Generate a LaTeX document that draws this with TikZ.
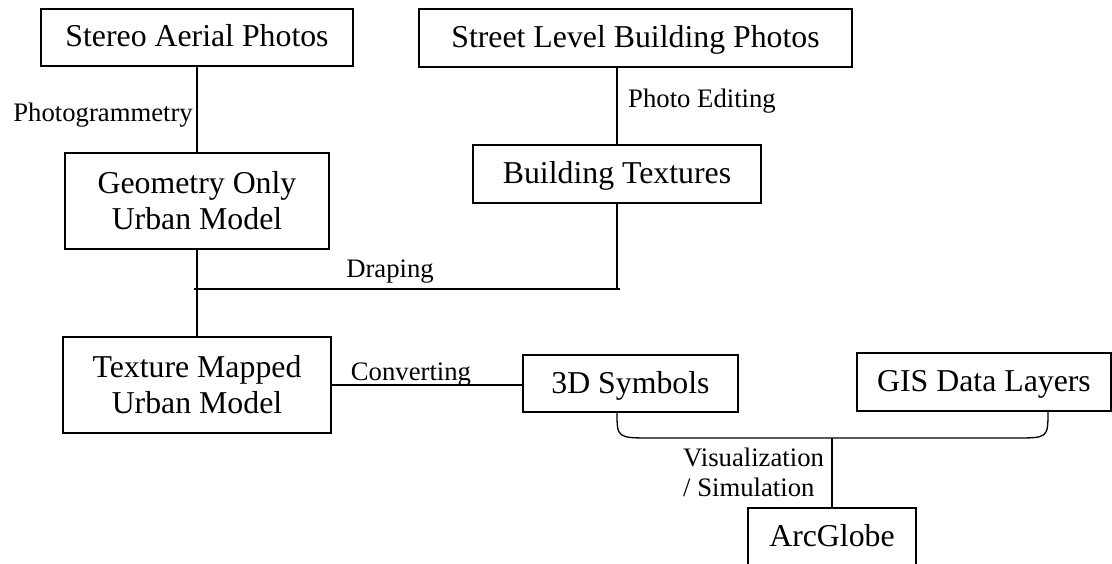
\documentclass[tikz,border=0pt]{standalone}
\usepackage{fontspec}
\setmainfont{Liberation Serif}
\begin{document}
\begin{tikzpicture}[x=1pt,y=-1pt,
  boxbase/.style={draw, line width=1.3pt, inner sep=0pt, font=\fontsize{31.8pt}{36pt}\selectfont},
  box/.style={boxbase, text height=24.5pt, text depth=5.5pt},
  box2/.style={boxbase, align=center},
  lbl/.style={inner sep=0pt, font=\fontsize{26.7pt}{30pt}\selectfont},
  lbl2/.style={lbl, align=left},
  conn/.style={line width=1.3pt}]
\useasboundingbox (0,0) rectangle (1112,564);
\clip (0,0) rectangle (1112,564);

% boxes
\node[box, minimum width=312pt, minimum height=57pt] (stereo) at (197,37.5) {Stereo Aerial Photos\hspace{7pt}};
\node[box, minimum width=433pt, minimum height=58pt] (street) at (635.5,38) {Street Level Building Photos};
\node[box2, minimum width=264pt, minimum height=96pt] (geom) at (197,201) {Geometry Only\\Urban Model};
\node[box, minimum width=288pt, minimum height=58pt] (textures) at (617,174) {Building Textures\hspace{15pt}};
\node[box2, minimum width=268pt, minimum height=96pt] (tmap) at (197,385) {Texture Mapped\\Urban Model};
\node[box, minimum width=215pt, minimum height=57pt] (sym) at (630.5,383.5) {3D Symbols\hspace{18pt}};
\node[box, minimum width=254pt, minimum height=58pt] (gis) at (984,382) {GIS Data Layers};
\node[box, minimum width=168pt, minimum height=57pt] (arc) at (832,536.5) {ArcGlobe};

% helper coordinates
\coordinate (drapeL) at (194,289);
\coordinate (drapeR) at (620,289);
\coordinate (braceL) at (617,412);
\coordinate (braceR) at (1048,411);
\coordinate (stem) at (832,438);

% connectors
\draw[conn] (stereo.south) -- (geom.north);
\draw[conn] (textures.north) -- (textures.north |- street.south);
\draw[conn] (textures.south) -- (textures.south |- drapeR);
\draw[conn] (drapeL) -- (drapeR);
\draw[conn] (geom.south) -- (tmap.north);
\draw[conn] (tmap.east) -- (tmap.east -| sym.west);
\draw[conn] (braceL) .. controls (617,438) .. (652,438) -- (1015,438) .. controls (1048,438) .. (braceR);
\draw[conn] (stem) -- (arc.north);

% labels
\node[lbl, anchor=base east] (lphoto) at (193,122) {Photogrammetry};
\node[lbl, anchor=base west] (ledit) at (628,108) {Photo Editing};
\node[lbl, anchor=base] (ldrape) at (390,278) {Draping};
\node[lbl, anchor=base] (lconv) at (411,380) {Converting};
\node[lbl2, anchor=west] (lvis) at (683,472) {Visualization\\/ Simulation};
\end{tikzpicture}
\end{document}
